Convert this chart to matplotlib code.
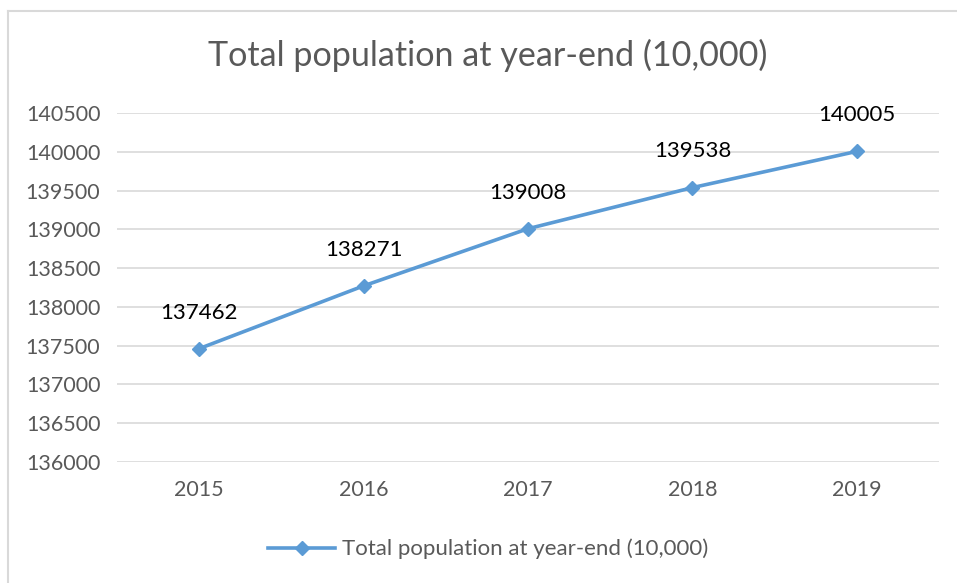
import matplotlib.pyplot as plt
from matplotlib.lines import Line2D

plt.rcParams['font.family'] = ['Lato', 'DejaVu Sans']

years = ['2015', '2016', '2017', '2018', '2019']
population = [137462, 138271, 139008, 139538, 140005]
series_name = 'Total population at year-end (10,000)'
y_ticks = list(range(136000, 140501, 500))

W, H = 957, 583
fig = plt.figure(figsize=(W / 100, H / 100), dpi=100)
ax = fig.add_axes([117 / W, 1 - 462 / H, (939 - 117) / W, (462 - 113) / H])

x = list(range(len(years)))
ax.plot(x, population, color='#5b9bd5', lw=2.6, marker='D', ms=7,
        label=series_name, zorder=3)

for xi, v in zip(x, population):
    ax.annotate(str(v), (xi, v), xytext=(0, 26), textcoords='offset points',
                ha='center', va='center', fontsize=16, color='black')

ax.set_xlim(-0.5, len(years) - 0.5)
ax.set_ylim(136000, 140500)
ax.set_yticks(y_ticks)
ax.set_xticks(x)
ax.set_xticklabels(years)
ax.grid(axis='y', color='#d9d9d9', lw=1.2)
ax.set_axisbelow(True)
for s in ax.spines.values():
    s.set_visible(False)
ax.tick_params(length=0, labelsize=15.5, labelcolor='#595959')
ax.tick_params(axis='x', pad=13)
ax.tick_params(axis='y', pad=12)

fig.text(488 / W, 1 - 55 / H, series_name, ha='center', va='center',
         fontsize=24.6, color='#595959')

fig.legend(loc='center', bbox_to_anchor=(488 / W, 1 - 549 / H), frameon=False,
           fontsize=16, labelcolor='#595959', handlelength=3.0, handletextpad=0.3)

# outer chart frame (only left and top visible)
fig.add_artist(Line2D([8 / W, 8 / W], [0, 1 - 11 / H], color='#d9d9d9', lw=1.5))
fig.add_artist(Line2D([8 / W, 1], [1 - 11 / H, 1 - 11 / H], color='#d9d9d9', lw=1.5))

fig.savefig('out.png', dpi=100)
